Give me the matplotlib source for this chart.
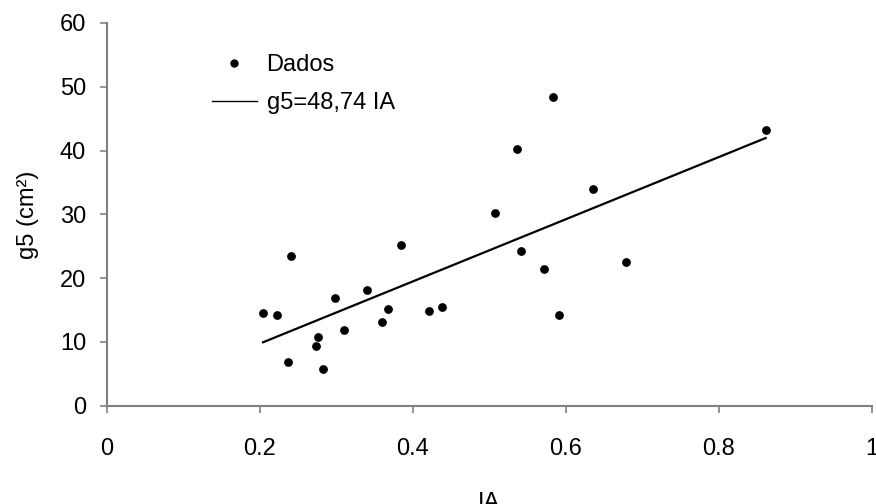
import matplotlib
matplotlib.use("Agg")
import matplotlib.pyplot as plt
from matplotlib.lines import Line2D

plt.rcParams["font.family"] = ["Liberation Sans", "DejaVu Sans"]

# IA vs g5 (cm²)
ia = [0.204, 0.222, 0.241, 0.236, 0.273, 0.276, 0.283, 0.298, 0.310, 0.340,
      0.359, 0.367, 0.384, 0.421, 0.438, 0.507, 0.536, 0.541, 0.571, 0.583,
      0.591, 0.635, 0.679, 0.861]
g5 = [14.6, 14.3, 23.5, 6.9, 9.3, 10.8, 5.8, 16.9, 11.9, 18.1,
      13.2, 15.2, 25.2, 14.9, 15.5, 30.2, 40.2, 24.3, 21.4, 48.4,
      14.3, 34.0, 22.5, 43.2]
slope = 48.74

xticks = [0, 0.2, 0.4, 0.6, 0.8, 1]
xticklabels = ["0", "0.2", "0.4", "0.6", "0.8", "1"]
yticks = [0, 10, 20, 30, 40, 50, 60]

fs = 17

fig = plt.figure(figsize=(8.76, 5.04), dpi=100)
ax = fig.add_axes([0.1221, 0.195, 0.8733, 0.7594])

ax.scatter(ia, g5, s=28, color="black", zorder=3)
xfit = [min(ia), max(ia)]
ax.plot(xfit, [slope * v for v in xfit], color="black", linewidth=1.6)

ax.set_xlim(0, 1)
ax.set_ylim(0, 60)
ax.set_xticks(xticks)
ax.set_xticklabels(xticklabels)
ax.set_yticks(yticks)

for s in ["top", "right"]:
    ax.spines[s].set_visible(False)
for s in ["left", "bottom"]:
    ax.spines[s].set_color("#808080")
    ax.spines[s].set_linewidth(1.5)
ax.tick_params(axis="both", colors="#808080", labelcolor="black", length=5,
               width=1.2, labelsize=fs)
ax.tick_params(axis="x", pad=18)
ax.tick_params(axis="y", pad=10)

ax.set_xlabel("IA", fontsize=fs, labelpad=23)
ax.set_ylabel("g5 (cm²)", fontsize=fs, labelpad=15)

handles = [
    Line2D([], [], linestyle="none", marker="o", markersize=5, color="black"),
    Line2D([], [], color="black", linewidth=1),
]
ax.legend(handles, ["Dados", "g5=48,74 IA"], loc="upper left",
          bbox_to_anchor=(0.137, 0.919), frameon=False, fontsize=fs,
          borderpad=0, borderaxespad=0,
          handlelength=1.9, handletextpad=0.42, labelspacing=0.68)

fig.savefig("out.png", dpi=100)
